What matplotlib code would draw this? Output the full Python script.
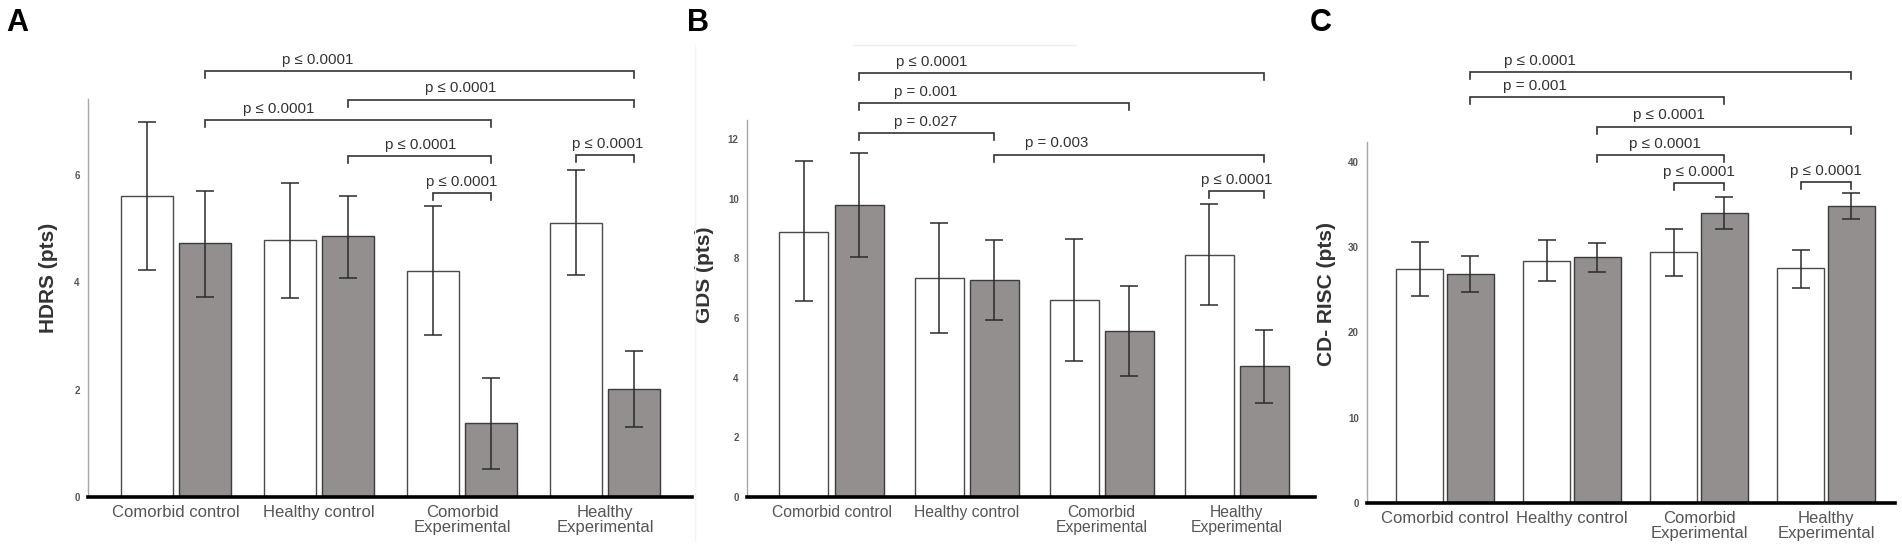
import matplotlib.pyplot as plt
from matplotlib import font_manager
from matplotlib.lines import Line2D

plt.rcParams['font.family'] = ['Liberation Sans', 'DejaVu Sans']

groups = ['Comorbid control', 'Healthy control', 'Comorbid\nExperimental', 'Healthy\nExperimental']

# HDRS (white = pre, gray = post), error bar ends
hdrs_pre = [5.61, 4.78, 4.21, 5.11]
hdrs_pre_lo = [4.23, 3.71, 3.01, 4.13]
hdrs_pre_hi = [6.99, 5.85, 5.41, 6.08]
hdrs_post = [4.72, 4.86, 1.37, 2.02]
hdrs_post_lo = [3.73, 4.08, 0.52, 1.30]
hdrs_post_hi = [5.70, 5.61, 2.22, 2.72]

# GDS
gds_pre = [8.89, 7.34, 6.60, 8.12]
gds_pre_lo = [6.55, 5.51, 4.55, 6.43]
gds_pre_hi = [11.27, 9.18, 8.65, 9.81]
gds_post = [9.79, 7.28, 5.57, 4.38]
gds_post_lo = [8.04, 5.92, 4.05, 3.14]
gds_post_hi = [11.53, 8.62, 7.07, 5.61]

# CD-RISC
cdr_pre = [27.4, 28.4, 29.4, 27.5]
cdr_pre_lo = [24.3, 26.0, 26.6, 25.2]
cdr_pre_hi = [30.6, 30.8, 32.1, 29.7]
cdr_post = [26.8, 28.8, 34.0, 34.8]
cdr_post_lo = [24.7, 27.1, 32.1, 33.3]
cdr_post_hi = [28.9, 30.5, 35.8, 36.3]

# brackets: (group, bar) left, (group, bar) right, height, label, label x
hdrs_brackets = [
    ((0, 1), (3, 1), 7.93, 'p ≤ 0.0001', 0.99),
    ((1, 1), (3, 1), 7.40, 'p ≤ 0.0001', 1.99),
    ((0, 1), (2, 1), 7.01, 'p ≤ 0.0001', 0.72),
    ((1, 1), (2, 1), 6.34, 'p ≤ 0.0001', 1.71),
    ((2, 0), (2, 1), 5.66, 'p ≤ 0.0001', 2.0),
    ((3, 0), (3, 1), 6.36, 'p ≤ 0.0001', 3.02),
]
gds_brackets = [
    ((0, 1), (3, 1), 14.2, 'p ≤ 0.0001', 0.74),
    ((0, 1), (2, 1), 13.2, 'p = 0.001', 0.70),
    ((0, 1), (1, 1), 12.18, 'p = 0.027', 0.70),
    ((1, 1), (3, 1), 11.47, 'p = 0.003', 1.67),
    ((3, 0), (3, 1), 10.24, 'p ≤ 0.0001', 3.0),
]
cdr_brackets = [
    ((0, 1), (3, 1), 50.5, 'p ≤ 0.0001', 0.75),
    ((0, 1), (2, 1), 47.6, 'p = 0.001', 0.71),
    ((1, 1), (3, 1), 44.1, 'p ≤ 0.0001', 1.76),
    ((1, 1), (2, 1), 40.8, 'p ≤ 0.0001', 1.73),
    ((2, 0), (2, 1), 37.5, 'p ≤ 0.0001', 2.0),
    ((3, 0), (3, 1), 37.6, 'p ≤ 0.0001', 3.0),
]

W, H = 1902, 552
fig = plt.figure(figsize=(W / 100, H / 100), dpi=100)

narrow = any('Narrow' in f.name for f in font_manager.fontManager.ttflist)
c_family = ['Liberation Sans Narrow', 'Liberation Sans', 'DejaVu Sans'] if narrow else ['Liberation Sans', 'DejaVu Sans']


def panel(rect, labx, pre, pre_lo, pre_hi, post, post_lo, post_hi, brackets, ylabel, yticks,
          xlim, ytop, off, width, lab_y, fs_cat, fs_p, family):
    ax = fig.add_axes(rect)
    x = list(range(len(groups)))
    xw = [i - off for i in x]
    xg = [i + off for i in x]
    ax.bar(xw, pre, width, color='white', edgecolor='#4a4a4a', linewidth=1.0, zorder=2)
    ax.bar(xg, post, width, color='#948f8f', edgecolor='#3c3c3c', linewidth=1.0, zorder=2)
    ax.errorbar(xw, pre, yerr=[[m - l for m, l in zip(pre, pre_lo)], [h - m for m, h in zip(pre, pre_hi)]],
                fmt='none', ecolor='#2b2b2b', elinewidth=1.1, capsize=6.5, capthick=1.1, zorder=3)
    ax.errorbar(xg, post, yerr=[[m - l for m, l in zip(post, post_lo)], [h - m for m, h in zip(post, post_hi)]],
                fmt='none', ecolor='#2b2b2b', elinewidth=1.1, capsize=6.5, capthick=1.1, zorder=3)
    ax.set_xlim(*xlim)
    ax.set_ylim(0, ytop)
    ax.set_yticks(yticks)
    ax.set_yticklabels([str(t) for t in yticks], fontsize=7, fontweight='bold', color='#555555')
    ax.tick_params(axis='y', length=0, pad=6)
    ax.set_xticks(x)
    ax.set_xticklabels(groups, fontsize=fs_cat, color='#555555', family=family, linespacing=0.95)
    ax.tick_params(axis='x', length=0, pad=6)
    for s in ['top', 'right']:
        ax.spines[s].set_visible(False)
    ax.spines['left'].set_color('#a8a8a8')
    ax.spines['left'].set_linewidth(1.0)
    ax.spines['bottom'].set_color('black')
    ax.spines['bottom'].set_linewidth(2.6)
    ax.set_ylabel(ylabel, fontsize=15, fontweight='bold', color='#333333')
    ax.yaxis.set_label_coords(labx, lab_y)
    tick = 7.0 * ytop / (rect[3] * H)
    for (g1, b1), (g2, b2), yb, lab, tx in brackets:
        x1 = g1 + (off if b1 else -off)
        x2 = g2 + (off if b2 else -off)
        ax.plot([x1, x1, x2, x2], [yb - tick, yb, yb, yb - tick], color='#333333', lw=1.2,
                clip_on=False, solid_joinstyle='miter')
        ax.annotate(lab, (tx, yb), xytext=(0, 3), textcoords='offset points', ha='center',
                    va='bottom', fontsize=fs_p, color='#333333', family=family, annotation_clip=False)
    return ax


panel([88 / W, 55 / H, 604 / W, 398 / H], -30 / 604, hdrs_pre, hdrs_pre_lo, hdrs_pre_hi,
      hdrs_post, hdrs_post_lo, hdrs_post_hi, hdrs_brackets, 'HDRS (pts)', [0, 2, 4, 6],
      (-0.615, 3.608), 7.41, 0.203, 0.364, 0.55, 12, 10.8, ['Liberation Sans', 'DejaVu Sans'])
panel([747 / W, 55 / H, 568 / W, 377 / H], -33 / 568, gds_pre, gds_pre_lo, gds_pre_hi,
      gds_post, gds_post_lo, gds_post_hi, gds_brackets, 'GDS (pts)', [0, 2, 4, 6, 8, 10, 12],
      (-0.626, 3.58), 12.63, 0.204, 0.363, 0.59, 11.3, 10.8, ['Liberation Sans', 'DejaVu Sans'])
panel([1367 / W, 49 / H, 528 / W, 361 / H], -31 / 528, cdr_pre, cdr_pre_lo, cdr_pre_hi,
      cdr_post, cdr_post_lo, cdr_post_hi, cdr_brackets, 'CD- RISC (pts)', [0, 10, 20, 30, 40],
      (-0.614, 3.543), 42.3, 0.2, 0.37, 0.58, 12 if narrow else 10.6, 11 if narrow else 9.8, c_family)

for lx, letter in [(6, 'A'), (687, 'B'), (1310, 'C')]:
    fig.text(lx / W, 1 - 23 / H, letter, fontsize=22, fontweight='bold', ha='left', va='center')

# faint scan edges around panel B
fig.add_artist(Line2D([853 / W, 1076 / W], [1 - 45 / H, 1 - 45 / H], color='#ededed', lw=1))
fig.add_artist(Line2D([695 / W, 695 / W], [1 - 45 / H, 1 - 540 / H], color='#f3f3f3', lw=1))

fig.savefig('out.png', dpi=100)
